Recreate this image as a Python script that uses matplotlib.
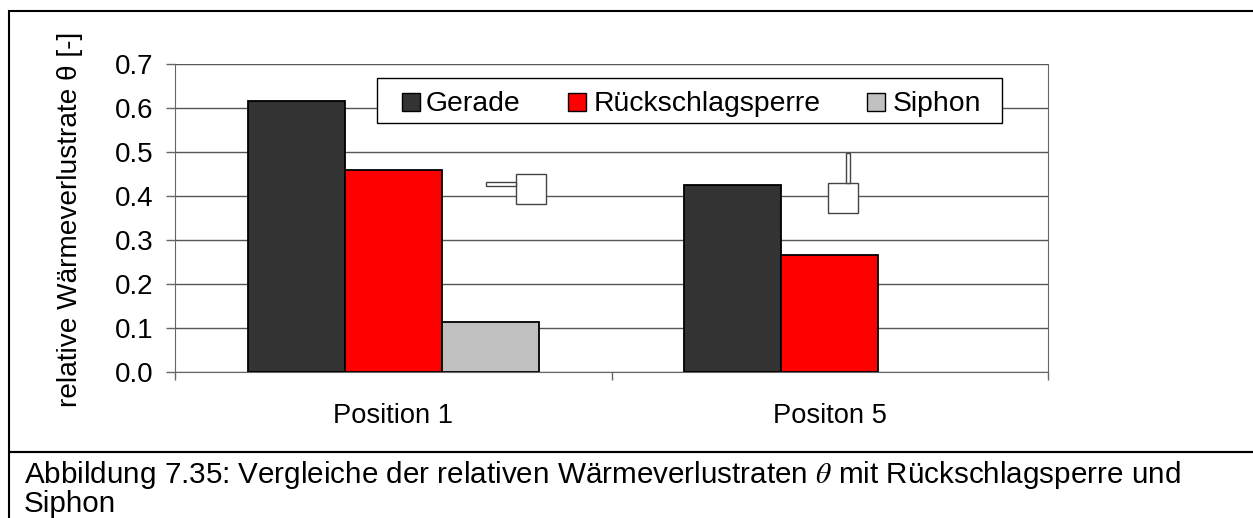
import matplotlib
matplotlib.use('Agg')
import matplotlib.pyplot as plt
import numpy as np
from matplotlib.patches import Rectangle

W, H = 1253, 518

categories = ['Position 1', 'Positon 5']
series_names = ['Gerade', 'Rückschlagsperre', 'Siphon']
gerade = [0.615, 0.425]
rueckschlag = [0.458, 0.266]
siphon = [0.114, 0.0]
yticks = [0.0, 0.1, 0.2, 0.3, 0.4, 0.5, 0.6, 0.7]
ylabel = 'relative Wärmeverlustrate θ [-]'
caption_1 = 'Abbildung 7.35: Vergleiche der relativen Wärmeverlustraten $\\theta$ mit Rückschlagsperre und'
caption_2 = 'Siphon'

colors = ['#333333', '#ff0000', '#c0c0c0']

plt.rcParams['font.family'] = ['Liberation Sans', 'DejaVu Sans']
plt.rcParams['mathtext.fontset'] = 'stix'


def px_rect(fig, x, y, w, h, **kw):
    # rectangle in pixels, y from the top
    fig.add_artist(Rectangle((x / W, 1 - (y + h) / H), w / W, h / H,
                             transform=fig.transFigure, **kw))


fig = plt.figure(figsize=(W / 100, H / 100), dpi=100)

# outer frame and caption line
px_rect(fig, 9, 11, 1300, 441, fc='none', ec='black', lw=1.5)
px_rect(fig, 9, 452, 1300, 100, fc='none', ec='black', lw=1.5)

ax = fig.add_axes([175 / W, 1 - 372 / H, 873 / W, 308.5 / H])
ax.set_xlim(0, 2)
ax.set_ylim(0, 0.7)

bar_w = 0.2225
x = np.arange(len(categories)) + 0.5
for i, vals in enumerate([gerade, rueckschlag, siphon]):
    bars = ax.bar(x + (i - 1) * bar_w, vals, bar_w, color=colors[i], edgecolor='black',
                  linewidth=1.3, label=series_names[i], zorder=3)
    for b, v in zip(bars, vals):
        if v == 0:
            b.set_linewidth(0)

ax.set_yticks(yticks)
ax.set_yticklabels(['%.1f' % v for v in yticks], fontsize=20)
ax.set_xticks([0, 1, 2])
ax.set_xticklabels([])
ax.tick_params(axis='y', length=6.5, width=1, color='#666666', pad=9, direction='out')
ax.tick_params(axis='x', length=5.8, width=1, color='#666666', direction='out')
ax.grid(axis='y', color='#555555', lw=1, zorder=0)
ax.set_axisbelow(True)
ax.spines['top'].set_visible(False)
for s in ['left', 'bottom', 'right']:
    ax.spines[s].set_color('#666666')
for xc, name in zip(x, categories):
    ax.annotate(name, (xc, 0), xytext=(0, -37), textcoords='offset points',
                ha='center', va='baseline', fontsize=19.6)

fig.text(70 / W, 1 - 219 / H, ylabel, rotation=90, ha='center', va='center', fontsize=20.2)

# legend box
px_rect(fig, 377, 78, 625, 45, fc='white', ec='black', lw=1, zorder=5)
for xs, name, c, tx in zip([402, 568, 867], series_names, colors, [426, 594, 893]):
    px_rect(fig, xs, 93, 18, 18, fc=c, ec='black', lw=1, zorder=6)
    fig.text(tx / W, 1 - 111 / H, name, fontsize=20.4, va='baseline', zorder=6)

# pipe sketches
px_rect(fig, 516, 174, 30, 30, fc='white', ec='#444444', lw=1, zorder=6)
px_rect(fig, 486, 182, 30, 4, fc='white', ec='#444444', lw=1, zorder=6)
px_rect(fig, 828, 183, 30, 30, fc='white', ec='#444444', lw=1, zorder=6)
px_rect(fig, 846, 153, 4, 30, fc='white', ec='#444444', lw=1, zorder=6)

fig.text(24 / W, 1 - 483 / H, caption_1, fontsize=21.3, va='baseline')
fig.text(24 / W, 1 - 512 / H, caption_2, fontsize=21.3, va='baseline')

fig.savefig('out.png', dpi=100)
